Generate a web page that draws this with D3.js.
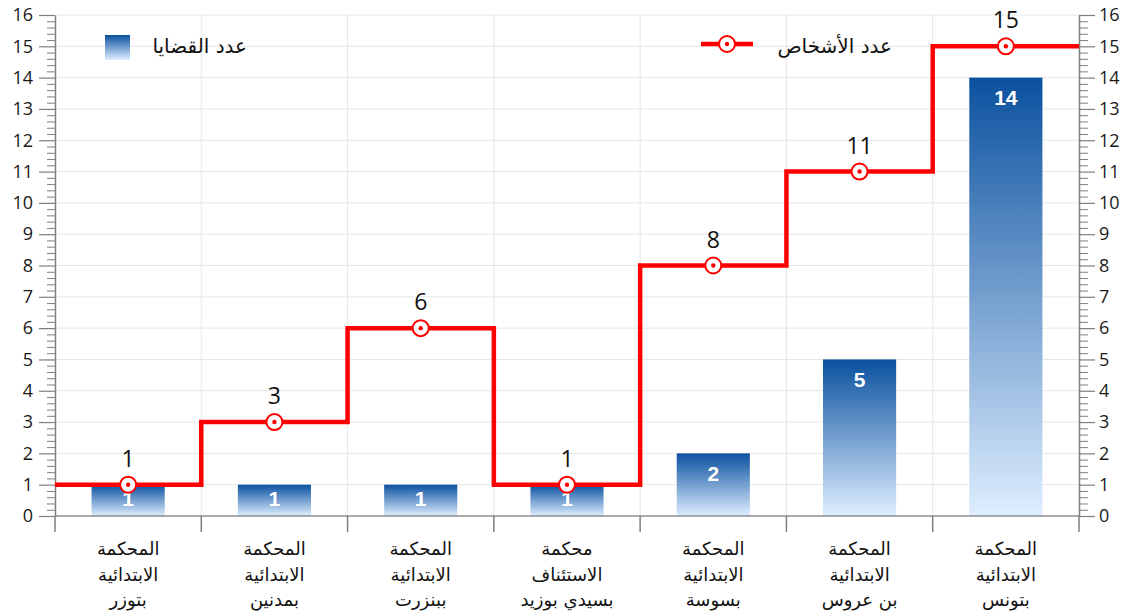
<!DOCTYPE html>
<html lang="ar">
<head>
<meta charset="utf-8">
<script src="https://cdn.jsdelivr.net/npm/d3@7"></script>
<style>
  html, body { margin: 0; padding: 0; background: #fff; }
  svg { display: block; font-family: "Open Sans", "DejaVu Sans", sans-serif; }
</style>
</head>
<body>
<svg id="chart" width="1128" height="611"></svg>
<script>
// Courts (three text lines each)
const categories = [
  ["المحكمة", "الابتدائية", "بتوزر"],
  ["المحكمة", "الابتدائية", "بمدنين"],
  ["المحكمة", "الابتدائية", "ببنزرت"],
  ["محكمة", "الاستئناف", "بسيدي بوزيد"],
  ["المحكمة", "الابتدائية", "بسوسة"],
  ["المحكمة", "الابتدائية", "بن عروس"],
  ["المحكمة", "الابتدائية", "بتونس"]
];
const casesValues = [1, 1, 1, 1, 2, 5, 14];      // عدد القضايا
const personsValues = [1, 3, 6, 1, 8, 11, 15];   // عدد الأشخاص
const yTicks = d3.range(0, 17);
const casesLabel = "عدد القضايا";
const personsLabel = "عدد الأشخاص";

const svg = d3.select("#chart");
const plotLeft = 55, plotRight = 1079, plotTop = 15, plotBottom = 516;

const x = d3.scaleBand().domain(d3.range(categories.length)).range([plotLeft, plotRight]).padding(0);
const y = d3.scaleLinear().domain([0, 16]).range([plotBottom, plotTop]);

// bar gradient
const defs = svg.append("defs");
const grad = defs.append("linearGradient").attr("id", "barGrad")
  .attr("x1", 0).attr("y1", 0).attr("x2", 0).attr("y2", 1);
grad.append("stop").attr("offset", "0%").attr("stop-color", "#0b519f");
grad.append("stop").attr("offset", "100%").attr("stop-color", "#deeeff");

// grid
const grid = svg.append("g");
grid.selectAll("line.h").data(yTicks.filter(d => d > 0)).join("line")
  .attr("x1", plotLeft).attr("x2", plotRight)
  .attr("y1", d => y(d)).attr("y2", d => y(d))
  .attr("stroke", "#e6e6e6").attr("stroke-width", 1);
grid.selectAll("line.v").data(d3.range(1, categories.length)).join("line")
  .attr("x1", d => x(d)).attr("x2", d => x(d))
  .attr("y1", plotTop).attr("y2", plotBottom)
  .attr("stroke", "#e6e6e6").attr("stroke-width", 1);

// bars
const bw = x.bandwidth() * 0.5;
svg.append("g").selectAll("rect").data(casesValues).join("rect")
  .attr("x", (d, i) => x(i) + (x.bandwidth() - bw) / 2)
  .attr("y", d => y(d))
  .attr("width", bw)
  .attr("height", d => y(0) - y(d))
  .attr("fill", "url(#barGrad)");

svg.append("g").selectAll("text").data(casesValues).join("text")
  .attr("x", (d, i) => x(i) + x.bandwidth() / 2)
  .attr("y", d => Math.min(y(d) + 20, (y(d) + y(0)) / 2 - 2))
  .attr("dy", "0.36em")
  .attr("text-anchor", "middle")
  .attr("fill", "#fff")
  .attr("font-weight", "bold")
  .attr("font-size", 21)
  .attr("font-family", "\"Liberation Sans\", Arial, sans-serif")
  .text(d => d);

// x axis line and category ticks
const axisColor = "#7f7f7f";
svg.append("line").attr("x1", plotLeft).attr("x2", plotRight).attr("y1", y(0)).attr("y2", y(0))
  .attr("stroke", "#595959").attr("stroke-width", 1.2);
svg.append("g").selectAll("line").data(d3.range(0, categories.length + 1)).join("line")
  .attr("x1", d => d < categories.length ? x(d) : plotRight)
  .attr("x2", d => d < categories.length ? x(d) : plotRight)
  .attr("y1", y(0)).attr("y2", y(0) + 16)
  .attr("stroke", axisColor).attr("stroke-width", 1.5);

// y axes (left and right) with minor ticks
function styleAxis(g) {
  g.select(".domain").attr("stroke", axisColor).attr("stroke-width", 1.5);
  g.selectAll(".tick line").attr("stroke", axisColor).attr("stroke-width", 1.2);
  g.selectAll(".tick text").attr("fill", "#1a1a1a").attr("font-size", 18)
    .attr("font-family", "\"Open Sans\", sans-serif");
}
const minorVals = d3.range(0, 16.001, 0.2).filter(v => Math.abs(v - Math.round(v)) > 1e-6);

const gl = svg.append("g").attr("transform", `translate(${plotLeft},0)`);
gl.call(d3.axisLeft(y).tickValues(yTicks).tickSize(16).tickPadding(6).tickSizeOuter(0)).call(styleAxis);
gl.append("g").call(d3.axisLeft(y).tickValues(minorVals).tickSize(8).tickFormat(""))
  .call(g => { g.select(".domain").remove(); g.selectAll("line").attr("stroke", axisColor); });

const gr = svg.append("g").attr("transform", `translate(${plotRight},0)`);
gr.call(d3.axisRight(y).tickValues(yTicks).tickSize(16).tickPadding(4).tickSizeOuter(0)).call(styleAxis);
gr.append("g").call(d3.axisRight(y).tickValues(minorVals).tickSize(9).tickFormat(""))
  .call(g => { g.select(".domain").remove(); g.selectAll("line").attr("stroke", axisColor); });

// step line of persons: flat across each band, vertical at band edges
const stepPts = [];
personsValues.forEach((v, i) => {
  stepPts.push([x(i), y(v)]);
  stepPts.push([x(i) + x.bandwidth(), y(v)]);
});
svg.append("path").datum(stepPts)
  .attr("d", d3.line())
  .attr("fill", "none").attr("stroke", "#ff0000").attr("stroke-width", 4.5)
  .attr("stroke-linejoin", "miter");

function marker(g, cx, cy) {
  g.append("circle").attr("cx", cx).attr("cy", cy).attr("r", 8)
    .attr("fill", "#fff").attr("stroke", "#ff0000").attr("stroke-width", 2);
  g.append("circle").attr("cx", cx).attr("cy", cy).attr("r", 2.2).attr("fill", "#ff0000");
}
const mk = svg.append("g");
personsValues.forEach((v, i) => marker(mk, x(i) + x.bandwidth() / 2, y(v)));

svg.append("g").selectAll("text").data(personsValues).join("text")
  .attr("x", (d, i) => x(i) + x.bandwidth() / 2)
  .attr("y", d => y(d) - 18)
  .attr("text-anchor", "middle")
  .attr("font-size", 23)
  .attr("fill", "#111")
  .text(d => d);

// category labels
const cl = svg.append("g");
categories.forEach((lines, i) => {
  const t = cl.append("text")
    .attr("text-anchor", "middle")
    .attr("font-size", 18)
    .attr("fill", "#111")
    .attr("font-family", "\"DejaVu Sans\", sans-serif");
  lines.forEach((s, j) => {
    t.append("tspan").attr("x", x(i) + x.bandwidth() / 2)
      .attr("y", 555 + j * 25.5).text(s);
  });
});

// legend
const lg = svg.append("g");
lg.append("rect").attr("x", 105).attr("y", 35).attr("width", 25).attr("height", 25)
  .attr("fill", "url(#barGrad)");
lg.append("text").attr("x", 247).attr("y", 53).attr("text-anchor", "end")
  .attr("font-size", 20).attr("fill", "#111")
  .attr("font-family", "\"DejaVu Sans\", sans-serif").text(casesLabel);
lg.append("line").attr("x1", 701).attr("x2", 753).attr("y1", 44).attr("y2", 44)
  .attr("stroke", "#ff0000").attr("stroke-width", 4.5);
marker(lg, 727, 44);
lg.append("text").attr("x", 892).attr("y", 53).attr("text-anchor", "end")
  .attr("font-size", 20).attr("fill", "#111")
  .attr("font-family", "\"DejaVu Sans\", sans-serif").text(personsLabel);
</script>
</body>
</html>
